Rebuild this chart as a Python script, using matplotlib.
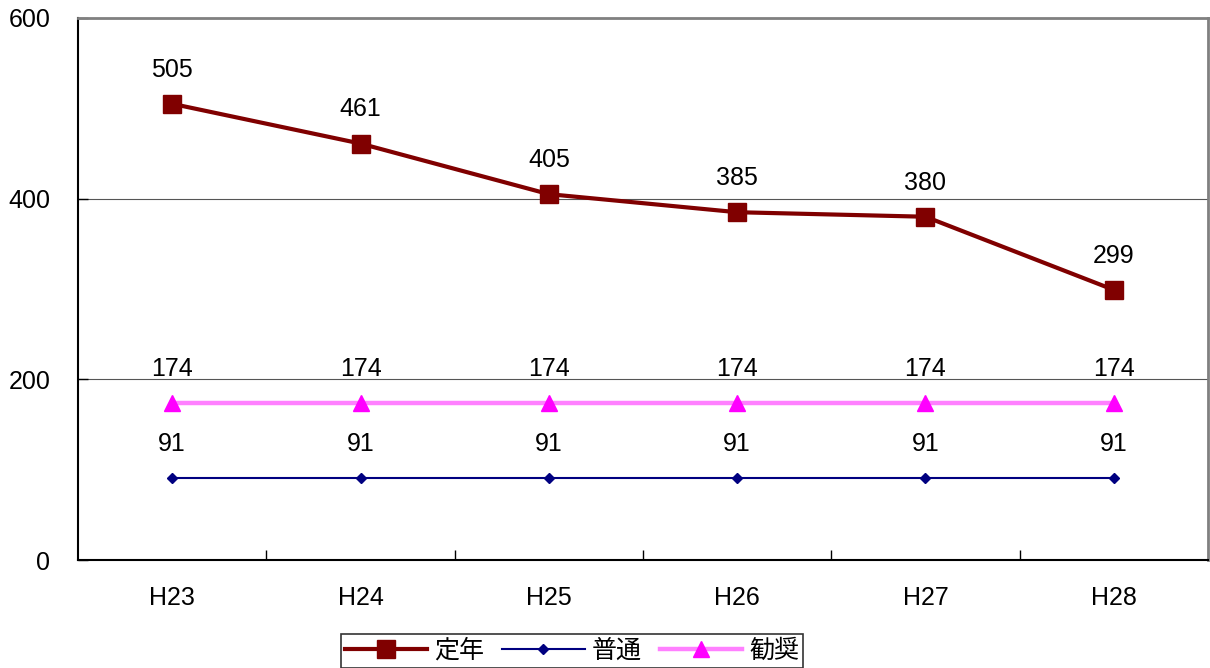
import matplotlib
matplotlib.use('Agg')
import matplotlib.pyplot as plt
import numpy as np

years = ['H23', 'H24', 'H25', 'H26', 'H27', 'H28']
teinen = [505, 461, 405, 385, 380, 299]
futsu = [91, 91, 91, 91, 91, 91]
kansho = [174, 174, 174, 174, 174, 174]

plt.rcParams['font.family'] = ['Liberation Sans', 'Noto Sans CJK JP', 'DejaVu Sans']

fig = plt.figure(figsize=(12.1, 6.68), dpi=100)
ax = fig.add_axes([78/1210, 1 - 560/668, 1130/1210, 542/668])

x = np.arange(len(years))
ax.plot(x, teinen, color='#800000', lw=3, marker='s', ms=13, label='定年', zorder=5)
ax.plot(x, futsu, color='#000080', lw=1.5, marker='D', ms=5.5, label='普通', zorder=4)
ax.plot(x, kansho, color='#FF80FF', lw=3.2, marker='^', ms=12, mfc='#FF00FF', mec='#FF00FF',
        label='勧奨', zorder=4)

for xs, ys in [(x, teinen), (x, futsu), (x, kansho)]:
    for xi, yi in zip(xs, ys):
        ax.annotate(str(yi), (xi, yi), xytext=(0, 16), textcoords='offset points',
                    ha='center', va='bottom', fontsize=18)

ax.set_xlim(-0.5, 5.5)
ax.set_ylim(0, 600)
ax.set_yticks([0, 200, 400, 600])
ax.set_xticks(x)
ax.set_xticklabels(years)
ax.set_xticks(np.arange(0.5, 5.5, 1), minor=True)
ax.tick_params(axis='x', which='major', length=0, pad=19, labelsize=18)
ax.tick_params(axis='x', which='minor', direction='in', length=7, width=1)
ax.tick_params(axis='y', direction='in', length=7, width=1, pad=20, labelsize=18)
ax.grid(axis='y', color='#555555', lw=0.8)
ax.set_axisbelow(True)

for s in ['left', 'bottom']:
    ax.spines[s].set_color('black')
    ax.spines[s].set_linewidth(1.5)
for s in ['top', 'right']:
    ax.spines[s].set_color('#808080')
    ax.spines[s].set_linewidth(2)

leg = fig.legend(loc='center', bbox_to_anchor=(572/1210, 1 - 651/668), ncol=3,
                 fontsize=18, frameon=True, fancybox=False, edgecolor='black',
                 handlelength=3.3, handletextpad=0.3, columnspacing=0.7,
                 borderpad=0.15)
leg.get_frame().set_linewidth(1.2)
for t in leg.get_texts():
    t.set_family(['Noto Sans CJK JP', 'DejaVu Sans'])

fig.savefig('out.png', dpi=100)
